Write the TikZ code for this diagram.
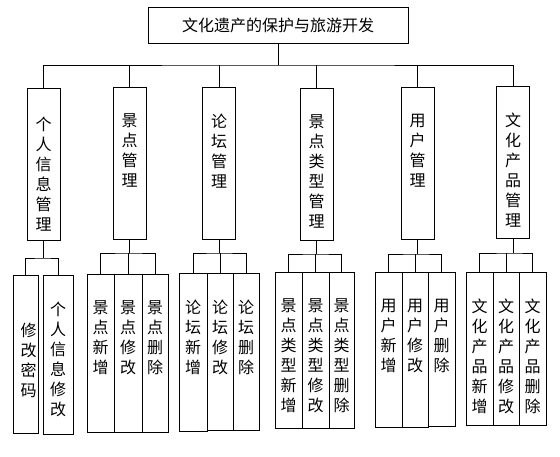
\documentclass[tikz,border=0pt]{standalone}
\usepackage{fontspec}
\newfontfamily\cjk{Noto Sans CJK SC}

\tikzset{
  every path/.style={line width=0.8pt},
  topbox/.style={draw,minimum width=260pt,minimum height=36pt,inner sep=0pt},
  mbox/.style={draw,minimum width=33pt,minimum height=152pt,inner sep=0pt},
  leaf/.style={draw,minimum height=157pt,inner sep=0pt},
  vtext/.style={anchor=north,align=center,inner sep=0pt,yshift=-27pt}
}

\begin{document}
\begin{tikzpicture}[x=1pt,y=-1pt,font=\cjk\fontsize{16}{20}\selectfont]
\useasboundingbox (0,0) rectangle (560,457);

\node[topbox] (root) at (278,25) {文化遗产的保护与旅游开发};

% second level
\node[mbox,label={[vtext,yshift=-2pt]north:{个\\人\\信\\息\\管\\理}}] (g1) at (43.5,164.5) {};
\node[mbox,label={[vtext]north:{景\\点\\管\\理}}] (g2) at (129.5,163) {};
\node[mbox,label={[vtext]north:{论\\坛\\管\\理}}] (g3) at (219,163.5) {};
\node[mbox,label={[vtext]north:{景\\点\\类\\型\\管\\理}}] (g4) at (316.5,164) {};
\node[mbox,label={[vtext]north:{用\\户\\管\\理}}] (g5) at (417.5,163.5) {};
\node[mbox,label={[vtext]north:{文\\化\\产\\品\\管\\理}}] (g6) at (513,162) {};

% leaves
\node[leaf,minimum width=25pt,minimum height=158pt,label={[vtext,yshift=-21pt,xshift=3pt]north:{修\\改\\密\\码}}] (l11) at (25.5,354) {};
\node[leaf,minimum width=30pt,minimum height=159pt,label={[vtext]north:{个\\人\\信\\息\\修\\改}}] (l12) at (58,354.5) {};

\node[leaf,minimum width=27pt,minimum height=158pt,label={[vtext]north:{景\\点\\新\\增}}] (l21) at (100.5,353) {};
\node[leaf,minimum width=28pt,minimum height=158pt,label={[vtext]north:{景\\点\\修\\改}}] (l22) at (128,353) {};
\node[leaf,minimum width=26pt,minimum height=158pt,label={[vtext]north:{景\\点\\删\\除}}] (l23) at (155,353) {};

\node[leaf,minimum width=28pt,minimum height=158pt,label={[vtext]north:{论\\坛\\新\\增}}] (l31) at (193,352) {};
\node[leaf,minimum width=26pt,minimum height=157pt,label={[vtext]north:{论\\坛\\修\\改}}] (l32) at (220,351.5) {};
\node[leaf,minimum width=26pt,minimum height=157pt,label={[vtext]north:{论\\坛\\删\\除}}] (l33) at (246,351.5) {};

\node[leaf,minimum width=27pt,minimum height=156pt,label={[vtext]north:{景\\点\\类\\型\\新\\增}}] (l41) at (288.5,350) {};
\node[leaf,minimum width=27pt,minimum height=156pt,label={[vtext]north:{景\\点\\类\\型\\修\\改}}] (l42) at (315.5,350) {};
\node[leaf,minimum width=25pt,minimum height=156pt,label={[vtext]north:{景\\点\\类\\型\\删\\除}}] (l43) at (341.5,350) {};

\node[leaf,minimum width=27pt,minimum height=155pt,label={[vtext]north:{用\\户\\新\\增}}] (l51) at (388.5,349.5) {};
\node[leaf,minimum width=26pt,minimum height=155pt,label={[vtext]north:{用\\户\\修\\改}}] (l52) at (415,349.5) {};
\node[leaf,minimum width=27pt,minimum height=154pt,label={[vtext]north:{用\\户\\删\\除}}] (l53) at (441.5,349) {};

\node[leaf,minimum width=27pt,minimum height=153pt,label={[vtext]north:{文\\化\\产\\品\\新\\增}}] (l61) at (479.5,348.5) {};
\node[leaf,minimum width=26pt,minimum height=153pt,label={[vtext]north:{文\\化\\产\\品\\修\\改}}] (l62) at (506,348.5) {};
\node[leaf,minimum width=27pt,minimum height=153pt,label={[vtext]north:{文\\化\\产\\品\\删\\除}}] (l63) at (532.5,348.5) {};

% connectors
\coordinate (bus) at (278,65);
\draw (root.south) -- (bus);
\draw (g1.north) |- (bus) -| (g6.north);
\foreach \g in {g2,g3,g4,g5}
  \draw (\g.north) -- (\g.north |- bus);

\coordinate (b1) at (43.5,258);
\draw (g1.south) -- (b1);
\draw (l11.north) |- (b1) -| (l12.north);

\foreach \i/\y in {2/253,3/253,4/254,5/254,6/253} {
  \draw (g\i.south) -- (g\i.south |- 0,\y) coordinate (c\i);
  \draw (l\i1.north) |- (c\i) -| (l\i3.north);
  \draw (l\i2.north) -- (l\i2.north |- c\i);
}
\end{tikzpicture}
\end{document}
